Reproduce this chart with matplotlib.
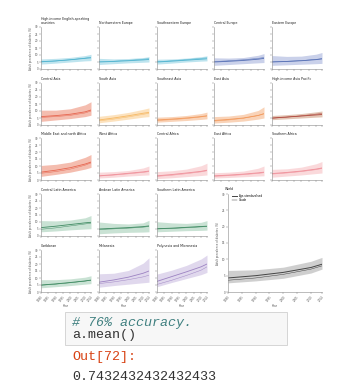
import matplotlib
matplotlib.use("Agg")
import matplotlib.pyplot as plt
from matplotlib.patches import FancyBboxPatch

years = [1980, 1990, 2000, 2010, 2014]
xticks = [1980, 1985, 1990, 1995, 2000, 2005, 2010, 2014]
yticks = [0, 5, 10, 15, 20, 25, 30]

regions = ["High-income English-speaking\ncountries", "Northwestern Europe", "Southwestern Europe",
           "Central Europe", "Eastern Europe",
           "Central Asia", "South Asia", "Southeast Asia", "East Asia", "High-income Asia Pacific",
           "Middle East and north Africa", "West Africa", "Central Africa", "East Africa", "Southern Africa",
           "Central Latin America", "Andean Latin America", "Southern Latin America",
           "Caribbean", "Melanesia", "Polynesia and Micronesia", "World"]

asr = [[5.2, 5.8, 6.6, 7.6, 8.0], [5.0, 5.4, 5.9, 6.5, 6.8], [5.0, 5.6, 6.3, 7.0, 7.3],
       [5.0, 5.5, 6.1, 7.0, 7.6], [5.0, 5.4, 5.9, 6.7, 7.2],
       [6.0, 6.7, 7.7, 9.4, 10.7], [3.6, 5.0, 6.6, 8.4, 9.0], [3.6, 4.2, 5.0, 6.0, 6.6],
       [3.2, 4.0, 5.0, 6.8, 8.0], [5.0, 5.7, 6.4, 7.2, 7.5],
       [5.6, 7.0, 8.8, 11.4, 12.8], [3.0, 3.8, 4.8, 5.8, 6.4], [3.0, 3.9, 5.0, 6.2, 7.0],
       [3.0, 3.5, 4.2, 5.1, 5.6], [4.6, 5.4, 6.4, 7.8, 8.6],
       [6.0, 7.0, 8.2, 9.4, 9.8], [5.0, 5.5, 6.0, 6.7, 7.2], [5.2, 5.6, 6.2, 6.8, 7.0],
       [5.0, 5.8, 6.8, 7.9, 8.5], [7.0, 8.6, 10.6, 13.4, 15.0], [7.6, 11.0, 14.4, 18.0, 20.0],
       [4.3, 5.0, 6.0, 7.5, 8.5]]
crude = [[5.0, 5.7, 6.6, 7.8, 8.4], [5.2, 5.6, 6.2, 7.0, 7.4], [5.2, 5.9, 6.7, 7.6, 8.0],
         [5.3, 5.9, 6.6, 7.6, 8.2], [5.1, 5.5, 6.0, 6.9, 7.4],
         [5.4, 6.0, 6.9, 8.6, 10.0], [3.0, 4.2, 5.8, 7.6, 8.4], [3.2, 3.8, 4.6, 5.8, 6.4],
         [2.8, 3.6, 4.8, 6.8, 8.2], [4.8, 5.6, 6.6, 7.8, 8.2],
         [4.8, 6.0, 7.8, 10.6, 12.2], [2.8, 3.5, 4.4, 5.4, 6.0], [2.6, 3.4, 4.5, 5.8, 6.6],
         [2.6, 3.1, 3.8, 4.7, 5.2], [4.2, 5.0, 6.0, 7.4, 8.2],
         [4.8, 5.8, 7.2, 8.6, 9.2], [4.6, 5.1, 5.6, 6.3, 6.8], [5.0, 5.4, 5.9, 6.5, 6.8],
         [4.8, 5.6, 6.6, 7.8, 8.4], [6.0, 7.2, 8.8, 10.8, 12.0], [5.4, 8.4, 11.8, 15.6, 18.0],
         [3.6, 4.3, 5.4, 7.0, 8.0]]
lower = [[3.5, 4.2, 5.0, 5.8, 6.0], [3.2, 3.8, 4.4, 4.8, 5.0], [3.5, 4.2, 5.0, 5.6, 5.8],
         [2.6, 3.2, 3.8, 4.4, 4.6], [2.6, 3.0, 3.4, 3.8, 4.0],
         [2.6, 3.6, 4.6, 6.0, 7.0], [1.6, 2.8, 4.2, 5.6, 6.0], [2.0, 2.6, 3.2, 4.0, 4.4],
         [1.4, 2.0, 2.8, 4.2, 5.0], [3.8, 4.4, 5.0, 5.6, 5.8],
         [2.6, 4.0, 5.6, 7.8, 9.0], [1.4, 2.0, 2.8, 3.4, 3.6], [1.0, 1.6, 2.4, 3.2, 3.6],
         [1.4, 1.8, 2.3, 2.8, 3.0], [2.0, 2.8, 3.6, 4.6, 5.0],
         [3.0, 3.6, 4.4, 5.0, 5.2], [1.6, 2.2, 2.6, 2.8, 3.0], [3.0, 3.4, 3.8, 4.0, 4.2],
         [3.0, 3.8, 4.6, 5.6, 6.0], [3.4, 4.6, 5.6, 6.6, 7.0], [3.8, 6.8, 9.6, 12.4, 14.0],
         [2.8, 3.4, 4.2, 5.8, 7.0]]
upper = [[7.2, 7.6, 8.3, 9.6, 10.5], [7.6, 7.2, 7.5, 8.2, 8.8], [7.0, 7.2, 7.8, 8.8, 9.4],
         [8.0, 7.8, 8.2, 9.8, 11.0], [9.6, 9.0, 9.2, 10.6, 11.8],
         [10.6, 10.6, 11.6, 14.4, 16.6], [6.2, 7.4, 9.0, 11.2, 12.2], [5.6, 6.0, 6.8, 8.2, 9.2],
         [6.0, 6.4, 7.6, 10.4, 13.0], [6.8, 7.4, 8.2, 9.4, 10.0],
         [10.4, 11.2, 12.8, 16.2, 18.2], [5.6, 6.0, 6.8, 8.6, 10.0], [6.0, 6.6, 7.8, 10.2, 12.0],
         [5.2, 5.6, 6.4, 8.4, 10.0], [7.6, 8.0, 9.2, 11.6, 13.2],
         [11.0, 10.8, 11.4, 13.0, 14.6], [10.0, 9.0, 8.6, 9.4, 11.2], [10.2, 9.4, 9.0, 9.8, 11.0],
         [8.8, 8.8, 9.4, 10.6, 11.6], [13.0, 13.4, 15.4, 20.6, 24.4], [12.8, 15.6, 19.0, 23.6, 26.4],
         [6.6, 6.8, 7.6, 9.4, 10.6]]

line_colors = ["#4fb3cf", "#4fb3cf", "#4fb3cf", "#5670b5", "#5670b5",
               "#e6654f", "#f6b863", "#f29a5d", "#f29a5d", "#b04a40",
               "#e6654f", "#ef8e98", "#ef8e98", "#ef8e98", "#ef8e98",
               "#3f8a62", "#3f8a62", "#3f8a62", "#3f8a62", "#9c82c2", "#9c82c2", "#444444"]
band_colors = ["#a9dbe9", "#a9dbe9", "#a9dbe9", "#b9c2e3", "#b9c2e3",
               "#f1a795", "#fcd9a8", "#f8c5a0", "#f8c5a0", "#d9b29c",
               "#f1a795", "#f9cdd0", "#f9cdd0", "#f9cdd0", "#f9cdd0",
               "#b8d9c6", "#b8d9c6", "#b8d9c6", "#b8d9c6", "#d6cbe8", "#d6cbe8", "#c4c4c4"]

W, H = 361, 388
fig = plt.figure(figsize=(W / 100, H / 100), dpi=100)
fig.patch.set_facecolor("white")

col_x = [41, 99, 157, 214, 272]
row_y = [27, 83, 138, 194, 250]
pw, ph = 50, 42

positions = []
for r in range(3):
    for c in range(5):
        positions.append((r, c))
for r in (3, 4):
    for c in range(3):
        positions.append((r, c))

spine_c = "#8a8a8a"


def style(ax, small=True):
    for s in ("top", "right"):
        ax.spines[s].set_visible(False)
    for s in ("left", "bottom"):
        ax.spines[s].set_color(spine_c)
        ax.spines[s].set_linewidth(0.4)
    ax.tick_params(colors=spine_c, width=0.35, length=1.2, labelsize=2.0, pad=0.6, labelcolor="#555555")
    ax.set_xlim(1980, 2014)
    ax.set_ylim(0, 30)
    ax.set_xticks(xticks)
    ax.set_yticks(yticks)
    ax.patch.set_alpha(0)


def draw(ax, i, lw=0.6):
    ax.fill_between(years, lower[i], upper[i], color=band_colors[i], alpha=0.75, lw=0)
    ax.plot(years, crude[i], color=line_colors[i], lw=lw * 0.6, alpha=0.9)
    ax.plot(years, asr[i], color=line_colors[i], lw=lw)


for i, (r, c) in enumerate(positions):
    x0 = col_x[c]
    y0 = row_y[r]
    ax = fig.add_axes([x0 / W, 1 - (y0 + ph) / H, pw / W, ph / H])
    style(ax)
    draw(ax, i)
    ax.text(0.0, 1.04, regions[i], transform=ax.transAxes, fontsize=2.3, va="bottom", ha="left",
            color="#222222", linespacing=1.1)
    if c == 0:
        ax.set_ylabel("Adult prevalence of diabetes (%)", fontsize=1.9, color="#555555", labelpad=1.5)
    else:
        ax.set_yticklabels([])
    if r == 4:
        ax.set_xticklabels([str(y) for y in xticks], rotation=50, ha="right", rotation_mode="anchor")
        ax.set_xlabel("Year", fontsize=2.0, color="#555555", labelpad=1.0)
    else:
        ax.set_xticklabels([])

# World panel
wx0, wx1, wy0, wy1 = 228, 322, 194, 292
axw = fig.add_axes([wx0 / W, 1 - wy1 / H, (wx1 - wx0) / W, (wy1 - wy0) / H])
style(axw)
i = len(regions) - 1
axw.fill_between(years, lower[i], upper[i], color=band_colors[i], alpha=0.8, lw=0)
l1, = axw.plot(years, asr[i], color=line_colors[i], lw=0.7, label="Age-standardised")
l2, = axw.plot(years, crude[i], color=line_colors[i], lw=0.35, label="Crude")
axw.set_xticklabels([str(y) for y in xticks], rotation=50, ha="right", rotation_mode="anchor")
axw.set_xlabel("Year", fontsize=2.0, color="#555555", labelpad=1.0)
axw.set_ylabel("Adult prevalence of diabetes (%)", fontsize=1.9, color="#555555", labelpad=1.5)
axw.text(-0.03, 1.03, "World", transform=axw.transAxes, fontsize=2.3, va="bottom", ha="left", color="#222222")
axw.legend(handles=[l1, l2], loc="upper left", fontsize=2.0, frameon=False, handlelength=2.0,
           borderaxespad=0.2, labelspacing=0.2, handletextpad=0.5, bbox_to_anchor=(0.02, 1.02))

# Notebook cell
box = FancyBboxPatch((65 / W, 1 - 345 / H), (287 - 65) / W, (345 - 312) / H,
                     boxstyle="square,pad=0", transform=fig.transFigure,
                     facecolor="#f7f7f7", edgecolor="#cfcfcf", lw=0.6)
fig.patches.append(box)
mono = "Liberation Mono"
fig.text(72 / W, 1 - 323 / H, "# 76% accuracy.", fontsize=9.6, family=mono, style="italic",
         color="#408080", va="center", ha="left")
fig.text(72 / W, 1 - 335 / H, "a.mean()", fontsize=9.6, family=mono, color="#333333",
         va="center", ha="left")
fig.text(72 / W, 1 - 357 / H, "Out[72]:", fontsize=9.6, family=mono, color="#d84315",
         va="center", ha="left")
fig.text(72 / W, 1 - 377 / H, "0.7432432432432433", fontsize=9.6, family=mono, color="#333333",
         va="center", ha="left")

fig.savefig("out.png", dpi=100)
